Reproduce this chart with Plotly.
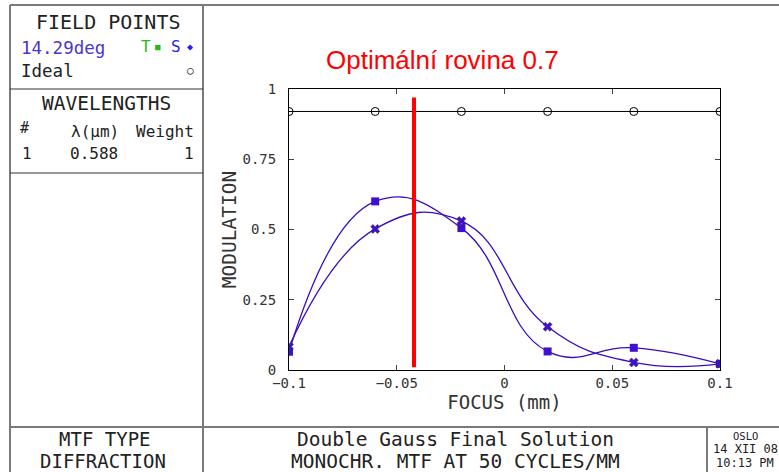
import plotly.graph_objects as go

W, H = 779, 472

# ---- data ----
focus_mm = [-0.1, -0.06, -0.02, 0.02, 0.06, 0.1]
mtf_T = [0.065, 0.600, 0.505, 0.066, 0.079, 0.022]
mtf_S = [0.083, 0.502, 0.530, 0.154, 0.027, 0.022]
mtf_ideal = [0.92, 0.92, 0.92, 0.92, 0.92, 0.92]
optimal_focus = -0.042
optimal_span = [0.01, 0.97]

x_ticks = [-0.1, -0.05, 0, 0.05, 0.1]
x_tick_text = ["\u22120.1", "\u22120.05", "0", "0.05", "0.1"]
y_ticks = [0, 0.25, 0.5, 0.75, 1]
y_tick_text = ["0", "0.25", "0.5", "0.75", "1"]

CURVE = "#3a0cc0"
MARK = "#4010d0"
MONO = "DejaVu Sans Mono"
SANS = "Liberation Sans"
TXT = "#222222"


def px(x):
    return x / W


def py(y):
    return 1 - y / H


fig = go.Figure()

fig.add_trace(go.Scatter(x=focus_mm, y=mtf_ideal, mode="lines+markers",
                         line=dict(color="black", width=1),
                         marker=dict(symbol="circle-open", size=8, color="black", line=dict(width=1)),
                         showlegend=False))
fig.add_trace(go.Scatter(x=focus_mm, y=mtf_T, mode="lines+markers",
                         line=dict(color=CURVE, width=1.3, shape="spline", smoothing=1.3),
                         marker=dict(symbol="square", size=8, color=MARK),
                         showlegend=False))
fig.add_trace(go.Scatter(x=focus_mm, y=mtf_S, mode="lines+markers",
                         line=dict(color=CURVE, width=1.3, shape="spline", smoothing=1.3),
                         marker=dict(symbol="x", size=8, color=MARK, line=dict(width=0.5, color="#333")),
                         showlegend=False))
fig.add_trace(go.Scatter(x=[optimal_focus, optimal_focus], y=optimal_span, mode="lines",
                         line=dict(color="#ff0000", width=4), showlegend=False))

fig.update_xaxes(range=[-0.1, 0.1], domain=[px(289), px(720)], automargin=False,
                 tickvals=x_ticks, ticktext=x_tick_text, ticks="inside", ticklen=5,
                 showline=True, linecolor="black", linewidth=1, mirror="ticks",
                 showgrid=False, zeroline=False,
                 tickfont=dict(family=MONO, size=14, color="#333"),
                 title=dict(text="FOCUS (mm)", font=dict(family=MONO, size=19, color="#333"), standoff=3))
fig.update_yaxes(range=[0, 1], domain=[py(370), py(89)], automargin=False,
                 tickvals=y_ticks, ticktext=y_tick_text, ticks="inside", ticklen=5,
                 ticklabelstandoff=9,
                 showline=True, linecolor="black", linewidth=1, mirror="ticks",
                 showgrid=False, zeroline=False,
                 tickfont=dict(family=MONO, size=14, color="#333"),
                 title=dict(text="MODULATION", font=dict(family=MONO, size=19.5, color="#333"), standoff=0))

GRAY = "#7a7a7a"
lines = [
    (10, 5, 779, 5, GRAY, 2),
    (10, 5, 10, 472, GRAY, 2),
    (203, 5, 203, 472, GRAY, 2),
    (10, 89, 203, 89, "#333", 1.2),
    (10, 173, 203, 173, "#333", 1.2),
    (10, 427, 779, 427, GRAY, 2),
    (707, 427, 707, 472, GRAY, 2),
]
shapes = []
for x0, y0, x1, y1, c, w in lines:
    shapes.append(dict(type="line", xref="paper", yref="paper",
                       x0=px(x0), y0=py(y0), x1=px(x1), y1=py(y1),
                       line=dict(color=c, width=w)))
fig.update_layout(shapes=shapes)


def txt(x, y, s, size=17, color=TXT, xa="center", family=MONO):
    fig.add_annotation(x=px(x), y=py(y), xref="paper", yref="paper", text=s,
                       showarrow=False, xanchor=xa, yanchor="middle",
                       font=dict(family=family, size=size, color=color))


txt(108, 22, "FIELD POINTS", 20)
txt(19, 48, "14.29deg", 17.5, "#4a35d0", "left")
txt(146, 47, "T", 16, "#22bb22")
txt(158, 47, "\u25a0", 9, "#22bb22")
txt(176, 47, "S", 16, "#2222ee")
txt(190, 47, "\u25c6", 10, "#2222ee")
txt(19, 71, "Ideal", 17.5, TXT, "left")
txt(190, 70, "\u25cb", 11, TXT)
txt(106, 104, "WAVELENGTHS", 19.5)
txt(18, 128, "#", 15, TXT, "left")
txt(95, 131, "\u03bb(\u03bcm)", 16)
txt(196, 131, "Weight", 16, TXT, "right")
txt(20, 153, "1", 16, TXT, "left")
txt(94, 153, "0.588", 16)
txt(196, 153, "1", 16, TXT, "right")

txt(105, 439, "MTF TYPE", 19)
txt(103, 461, "DIFFRACTION", 19)
txt(455, 439, "Double Gauss Final Solution", 19.5)
txt(455, 461, "MONOCHR. MTF AT 50 CYCLES/MM", 19.5)
txt(745, 436, "OSLO", 10.5)
txt(745, 449, "14 XII 08", 12)
txt(745, 463, "10:13 PM", 12)

txt(443, 60, "Optimální rovina 0.7", 26, "#ff0000", family=SANS)

fig.update_layout(width=W, height=H, margin=dict(l=0, r=0, t=0, b=0, autoexpand=False),
                  paper_bgcolor="white", plot_bgcolor="white", showlegend=False)

fig.write_html("out.html", config={"displayModeBar": False},
               post_script="document.body.style.margin='0';document.body.style.overflow='hidden';")
